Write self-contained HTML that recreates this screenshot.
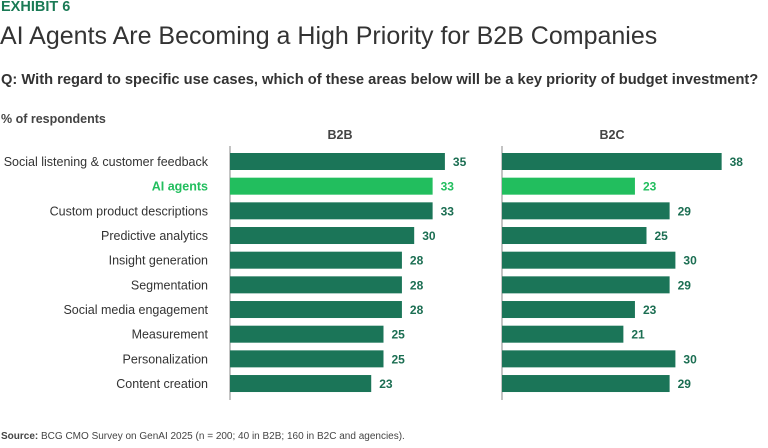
<!DOCTYPE html>
<html><head><meta charset="utf-8"><style>
body{margin:0;width:768px;height:448px;background:#fff;font-family:"Liberation Sans",sans-serif;position:relative;overflow:hidden;color:#333}
.t{position:absolute;white-space:nowrap}
</style></head><body>
<div class="t" style="left:1px;top:-1px;font-size:14.5px;font-weight:bold;color:#1a7a55">EXHIBIT 6</div>
<div class="t" style="left:0;top:22px;font-size:25px;color:#333">AI Agents Are Becoming a High Priority for B2B Companies</div>
<div class="t" style="left:1px;top:72px;font-size:14.7px;font-weight:bold;color:#333">Q: With regard to specific use cases, which of these areas below will be a key priority of budget investment?</div>
<div class="t" style="left:1px;top:112px;font-size:12.5px;font-weight:bold;color:#444">% of respondents</div>
<svg id="c" width="768" height="448" style="position:absolute;left:0;top:0"></svg>
<div class="t" style="left:1px;top:431px;font-size:10px;color:#444"><b>Source:</b> BCG CMO Survey on GenAI 2025 (n = 200; 40 in B2B; 160 in B2C and agencies).</div>
<script>
const categories=["Social listening & customer feedback","AI agents","Custom product descriptions","Predictive analytics","Insight generation","Segmentation","Social media engagement","Measurement","Personalization","Content creation"];
const b2b=[35,33,33,30,28,28,28,25,25,23];
const b2c=[38,23,29,25,30,29,23,21,30,29];
const highlight=1;
const svg=document.getElementById('c');
const NS='http://www.w3.org/2000/svg';
function mk(t,a,txt){const e=document.createElementNS(NS,t);for(const k in a)e.setAttribute(k,a[k]);if(txt!=null)e.textContent=txt;svg.appendChild(e);return e;}
const y0=153,pitch=24.67,bh=17;
function yPos(i){return y0+i*pitch;}
const panels=[{name:'B2B',vals:b2b,x0:230,s:6.14},{name:'B2C',vals:b2c,x0:502,s:5.78}];
categories.forEach((c,i)=>{
  const t=mk('text',{x:208,y:yPos(i)+bh/2+4.5,'text-anchor':'end','font-size':12.5,fill:i===highlight?'#22be5e':'#333','font-weight':i===highlight?'bold':'normal'},c);
  
  
});
panels.forEach(p=>{
  const h=mk('text',{x:p.x0+110,y:139,'text-anchor':'middle','font-size':12.5,'font-weight':'bold',fill:'#444'},p.name);
  
  
  const ax=mk('line',{x1:p.x0,x2:p.x0,y1:146,y2:400,stroke:'#888','stroke-width':1});
  
  
  p.vals.forEach((v,i)=>{
    const w=v*p.s;
    const col=i===highlight?'#22be5e':'#1b7558';
    const r=mk('rect',{x:p.x0,y:yPos(i),width:w,height:bh,fill:col});
    
    
    const l=mk('text',{x:p.x0+w+8,y:yPos(i)+bh/2+4.5,'font-size':12,'font-weight':'bold',fill:i===highlight?'#22be5e':'#1b6e52'},v);
    
    
  });
});
</script>
</body></html>
